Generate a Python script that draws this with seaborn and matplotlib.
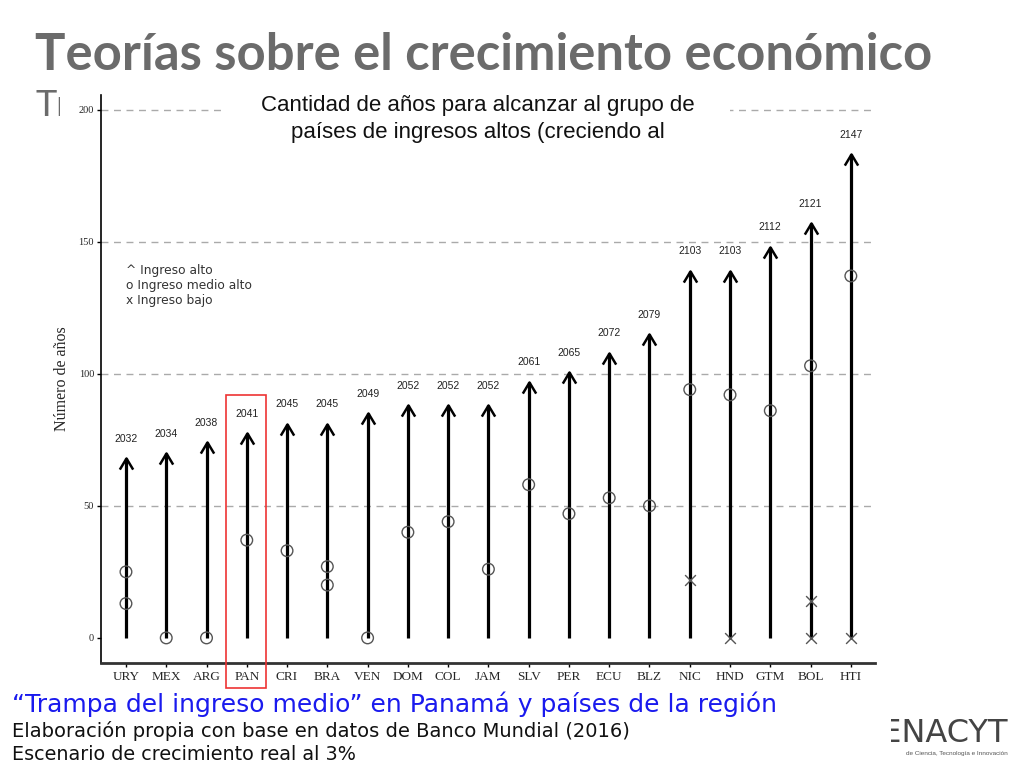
import matplotlib
matplotlib.use("Agg")
import matplotlib.pyplot as plt
import seaborn as sns
import pandas as pd
from matplotlib.path import Path
from matplotlib.patches import Rectangle

countries = ["URY", "MEX", "ARG", "PAN", "CRI", "BRA", "VEN", "DOM", "COL", "JAM",
             "SLV", "PER", "ECU", "BLZ", "NIC", "HND", "GTM", "BOL", "HTI"]
tip_values = [68, 70, 74, 77.5, 81, 81, 85, 88, 88, 88, 97, 100.5, 108, 115, 139, 139, 148, 157, 183]
years = ["2032", "2034", "2038", "2041", "2045", "2045", "2049", "2052", "2052", "2052",
         "2061", "2065", "2072", "2079", "2103", "2103", "2112", "2121", "2147"]
mid_countries = ["URY", "URY", "MEX", "ARG", "PAN", "CRI", "BRA", "BRA", "VEN", "DOM", "COL",
                 "JAM", "SLV", "PER", "ECU", "BLZ", "NIC", "HND", "GTM", "BOL", "HTI"]
mid_values = [25, 13, 0, 0, 37, 33, 27, 20, 0, 40, 44, 26, 58, 47, 53, 50, 94, 92, 86, 103, 137]
low_countries = ["NIC", "HND", "BOL", "BOL", "HTI"]
low_values = [22, 0, 14, 0, 0]
y_ticks = [0, 50, 100, 150, 200]

sns.set_style("white")
plt.rcParams['font.family'] = ['Liberation Sans', 'DejaVu Sans']

W, H = 1024, 768
fig = plt.figure(figsize=(10.24, 7.68), dpi=100)

def fx(px):
    return px / W

def fy(py):
    return 1 - py / H

# Slide title
fig.text(fx(35), fy(55), "Teorías sobre el crecimiento económico", fontsize=36.5,
         fontweight="bold", color="#6b6b6b", family="Lato", va="center", ha="left", zorder=3)
fig.text(fx(36), fy(105), "Tr", fontsize=26, color="#6b6b6b", family="Lato",
         va="center", ha="left", zorder=3)
fig.patches.append(Rectangle((fx(60), fy(680)), fx(900), fy(86) - fy(680),
                             transform=fig.transFigure, facecolor="white", edgecolor="none", zorder=4))

ax = fig.add_axes([fx(101), fy(663), fx(875) - fx(101), fy(95) - fy(663)])
ax.set_zorder(5)
ax.patch.set_alpha(0)

xpos = {c: i for i, c in enumerate(countries)}

# grid lines
for v in y_ticks[1:]:
    ax.axhline(v, color="#aaaaaa", lw=1, ls=(0, (5, 4)), zorder=0)

# arrows
ax.vlines(range(len(countries)), 0, tip_values, color="black", lw=2.3, zorder=2)
caret = Path([(-0.6, -1), (0, 0), (0.6, -1)], [Path.MOVETO, Path.LINETO, Path.LINETO])
ax.plot(range(len(countries)), tip_values, ls="none", marker=caret, ms=16, mfc="none",
        mec="black", mew=1.8, zorder=3)

for i, (t, yl) in enumerate(zip(tip_values, years)):
    ax.annotate(yl, (i, t), xytext=(0, 14), textcoords="offset points", ha="center",
                va="center", fontsize=7.5, color="#222222")

mid_df = pd.DataFrame({"x": [xpos[c] for c in mid_countries], "y": mid_values})
low_df = pd.DataFrame({"x": [xpos[c] for c in low_countries], "y": low_values})
sns.scatterplot(data=mid_df, x="x", y="y", ax=ax, marker="o", s=70, facecolor="none",
                edgecolor="#555555", linewidth=1.0, zorder=4)
sns.scatterplot(data=low_df, x="x", y="y", ax=ax, marker="x", s=60, color="#555555",
                linewidth=1.0, zorder=4)

ax.set_xlim(-0.62, 18.6)
ax.set_ylim(-9.5, 205.5)
ax.set_xticks(range(len(countries)))
ax.set_xticklabels(countries, family="Liberation Serif", fontsize=9.5)
ax.set_yticks(y_ticks)
ax.set_yticklabels([str(v) for v in y_ticks], family="Liberation Serif", fontsize=7.5)
ax.set_xlabel("")
ax.set_ylabel("Número de años", family="Liberation Serif", fontsize=11.5, labelpad=6)
ax.tick_params(axis="y", length=3, width=1, color="black", pad=2, left=True)
ax.tick_params(axis="x", length=3, width=1, color="black", pad=3, bottom=True)
for s in ["top", "right"]:
    ax.spines[s].set_visible(False)
ax.spines["left"].set_linewidth(1.2)
ax.spines["left"].set_color("black")
ax.spines["bottom"].set_linewidth(2)
ax.spines["bottom"].set_color("#333333")

# legend text
ax.text(0, 141.5, "^ Ingreso alto\no Ingreso medio alto\nx Ingreso bajo", fontsize=8.8,
        family="DejaVu Sans", color="#333333", va="top", ha="left", linespacing=1.2)

# red highlight box around PAN
fig.patches.append(Rectangle((fx(226), fy(688)), fx(266) - fx(226), fy(395) - fy(688),
                             transform=fig.transFigure, facecolor="none", edgecolor="#ee3333",
                             lw=1.2, zorder=6))

# white title box
fig.patches.append(Rectangle((fx(222), fy(150)), fx(730) - fx(222), fy(86) - fy(150),
                             transform=fig.transFigure, facecolor="white", edgecolor="none", zorder=6))
fig.text(fx(478), fy(119), "Cantidad de años para alcanzar al grupo de\npaíses de ingresos altos (creciendo al",
         fontsize=16, ha="center", va="center", color="#111111", linespacing=1.35, zorder=7)

# captions
fig.text(fx(12), fy(704), "“Trampa del ingreso medio” en Panamá y países de la región", fontsize=18,
         color="#1a1aee", family="DejaVu Sans", va="center", ha="left", zorder=7)
fig.text(fx(12), fy(731), "Elaboración propia con base en datos de Banco Mundial (2016)", fontsize=14,
         color="#111111", family="DejaVu Sans", va="center", ha="left", zorder=7)
fig.text(fx(12), fy(754), "Escenario de crecimiento real al 3%", fontsize=13.8,
         color="#111111", family="DejaVu Sans", va="center", ha="left", zorder=7)

# logo
fig.text(fx(1008), fy(733), "SENACYT", fontsize=23, color="#444444", family="Liberation Sans Narrow",
         va="center", ha="right", zorder=7)
fig.patches.append(Rectangle((fx(840), fy(760)), fx(891) - fx(840), fy(705) - fy(760),
                             transform=fig.transFigure, facecolor="white", edgecolor="none", zorder=8))
fig.text(fx(1008), fy(753), "de Ciencia, Tecnología e Innovación", fontsize=4.6, color="#555555",
         va="center", ha="right", zorder=9)

fig.savefig("out.png", dpi=100)
